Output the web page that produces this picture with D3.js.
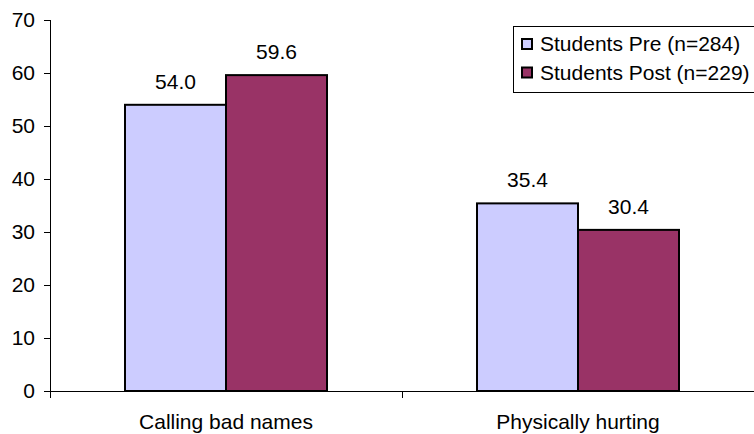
<!DOCTYPE html>
<html>
<head>
<meta charset="utf-8">
<script src="https://cdn.jsdelivr.net/npm/d3@7"></script>
<style>
  html, body { margin: 0; padding: 0; background: #fff; }
  svg { display: block; font-family: "Liberation Sans", Arial, sans-serif; }
</style>
</head>
<body>
<svg id="chart" width="754" height="434"></svg>
<script>
// Survey results: share of students reporting each behaviour
const categories = ["Calling bad names", "Physically hurting"];
const seriesNames = ["Students Pre (n=284)", "Students Post (n=229)"];
const preValues = [54.0, 35.4];
const postValues = [59.6, 30.4];
const yTicks = [0, 10, 20, 30, 40, 50, 60, 70];
const seriesColors = ["#CCCCFF", "#993366"];

const svg = d3.select("#chart");
const fontSize = 21;

const y = d3.scaleLinear().domain([0, 70]).range([391, 20]);
const x0 = d3.scaleBand().domain(categories).range([50, 754]).padding(0);
const x1 = d3.scaleBand().domain(seriesNames).range([75, x0.bandwidth() - 75]).padding(0);

const rows = categories.map((c, i) => ({
  category: c,
  values: [
    { series: seriesNames[0], value: preValues[i], color: seriesColors[0] },
    { series: seriesNames[1], value: postValues[i], color: seriesColors[1] }
  ]
}));

// Y axis
const yAxis = svg.append("g")
  .attr("transform", "translate(50,0)")
  .call(d3.axisLeft(y).tickValues(yTicks).tickSize(6).tickPadding(9).tickFormat(d3.format("d")));
yAxis.select(".domain").attr("stroke", "#000").attr("stroke-width", 1).attr("d", "M0.5,20V398");
yAxis.selectAll(".tick line").attr("stroke", "#000");
yAxis.selectAll(".tick text")
  .attr("font-size", fontSize)
  .attr("font-family", "Liberation Sans, Arial, sans-serif")
  .attr("fill", "#000");

// Bars
const groups = svg.append("g").selectAll("g")
  .data(rows)
  .join("g")
  .attr("transform", d => `translate(${x0(d.category)},0)`);

groups.selectAll("rect")
  .data(d => d.values)
  .join("rect")
  .attr("x", d => x1(d.series))
  .attr("y", d => y(d.value))
  .attr("width", x1.bandwidth())
  .attr("height", d => y(0) - y(d.value))
  .attr("fill", d => d.color)
  .attr("stroke", "#000")
  .attr("stroke-width", 2);

// Value labels
groups.selectAll("text")
  .data(d => d.values)
  .join("text")
  .attr("x", d => x1(d.series) + x1.bandwidth() / 2)
  .attr("y", d => y(d.value) - 16)
  .attr("text-anchor", "middle")
  .attr("font-size", fontSize)
  .attr("fill", "#000")
  .text(d => d3.format(".1f")(d.value));

// X axis
const xAxis = svg.append("g")
  .attr("transform", `translate(0,${y(0)})`)
  .call(d3.axisBottom(x0).tickSize(0).tickPadding(23));
xAxis.select(".domain").attr("stroke", "#000").attr("d", "M50,0.5H754");
xAxis.selectAll(".tick text")
  .attr("font-size", fontSize)
  .attr("font-family", "Liberation Sans, Arial, sans-serif")
  .attr("fill", "#000");
// Category separator ticks
svg.append("g").selectAll("line")
  .data(categories.slice(1))
  .join("line")
  .attr("x1", d => x0(d) + 0.5)
  .attr("x2", d => x0(d) + 0.5)
  .attr("y1", y(0))
  .attr("y2", y(0) + 7)
  .attr("stroke", "#000");

// Legend
const legend = svg.append("g").attr("transform", "translate(513,26)");
legend.append("rect")
  .attr("x", 0.5).attr("y", 0.5)
  .attr("width", 260).attr("height", 66)
  .attr("fill", "#fff").attr("stroke", "#000").attr("stroke-width", 1);
const items = legend.selectAll("g.item")
  .data(seriesNames)
  .join("g")
  .attr("class", "item")
  .attr("transform", (d, i) => `translate(0,${i * 28.5})`);
items.append("rect")
  .attr("x", 9).attr("y", 13)
  .attr("width", 10).attr("height", 10)
  .attr("fill", (d, i) => seriesColors[i])
  .attr("stroke", "#000").attr("stroke-width", 2);
items.append("text")
  .attr("x", 27).attr("y", 25)
  .attr("font-size", fontSize)
  .attr("fill", "#000")
  .text(d => d);
</script>
</body>
</html>
